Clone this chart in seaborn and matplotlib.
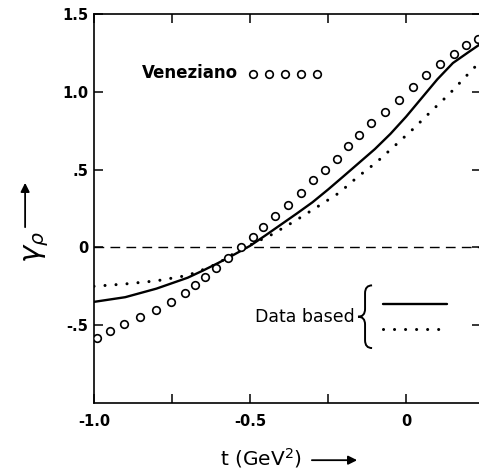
import numpy as np
import matplotlib
matplotlib.use("Agg")
import matplotlib.pyplot as plt
from matplotlib.path import Path
from matplotlib.patches import PathPatch
import seaborn as sns

# Veneziano model (open circles)
ven_t = [-0.99, -0.949, -0.904, -0.853, -0.80, -0.753, -0.708, -0.676, -0.644, -0.609,
         -0.57, -0.53, -0.49, -0.458, -0.42, -0.38, -0.337, -0.298, -0.26, -0.22,
         -0.186, -0.15, -0.112, -0.067, -0.022, 0.022, 0.064, 0.109, 0.154, 0.192, 0.23]
ven_g = [-0.58, -0.54, -0.49, -0.45, -0.40, -0.35, -0.29, -0.24, -0.19, -0.13,
         -0.07, 0.005, 0.07, 0.13, 0.205, 0.27, 0.35, 0.43, 0.50, 0.57,
         0.65, 0.72, 0.80, 0.87, 0.95, 1.03, 1.11, 1.18, 1.24, 1.30, 1.34]

# data based, solid curve
sol_t = [-1.0, -0.9, -0.8, -0.7, -0.65, -0.6, -0.55, -0.5, -0.45, -0.4, -0.35, -0.3, -0.25,
         -0.2, -0.15, -0.1, -0.05, 0.0, 0.05, 0.1, 0.15, 0.2, 0.24]
sol_g = [-0.35, -0.32, -0.265, -0.195, -0.148, -0.098, -0.045, 0.01, 0.078, 0.148, 0.218,
         0.29, 0.372, 0.458, 0.545, 0.632, 0.73, 0.84, 0.96, 1.08, 1.185, 1.255, 1.31]

# data based, dotted curve
dot_t = [-1.0, -0.9, -0.8, -0.7, -0.64, -0.6, -0.57, -0.5, -0.43, -0.356, -0.285, -0.215,
         -0.154, -0.096, -0.038, 0.022, 0.083, 0.138, 0.192, 0.24]
dot_g = [-0.25, -0.235, -0.215, -0.18, -0.135, -0.10, -0.06, 0.015, 0.083, 0.17, 0.26, 0.35,
         0.455, 0.545, 0.65, 0.76, 0.88, 0.985, 1.10, 1.20]

xticks = [-1.0, -0.5, 0.0]
xtick_labels = ["-1.0", "-0.5", "0"]
xminor = [-0.75, -0.25]
yticks = [-0.5, 0.0, 0.5, 1.0, 1.5]
ytick_labels = ["-.5", "0", ".5", "1.0", "1.5"]

# key entries
ven_key_t = [-0.49, -0.439, -0.388, -0.337, -0.285]
ven_key_g = [1.115] * 5
key_t = [-0.074, 0.131]

sns.set_style("ticks")
plt.rcParams['font.family'] = ['DejaVu Sans']
for k in ['text.color', 'axes.labelcolor', 'xtick.color', 'ytick.color', 'axes.edgecolor']:
    plt.rcParams[k] = 'black'

fig = plt.figure(figsize=(4.79, 4.72), dpi=100)
ax = fig.add_axes([94 / 479, 69 / 472, 387 / 479, 389 / 472])

dotted = (0, (0.01, 3.6))
sns.scatterplot(x=ven_t, y=ven_g, ax=ax, marker='o', s=30, facecolor='white',
                edgecolor='black', linewidth=1.2, zorder=3)
sns.lineplot(x=sol_t, y=sol_g, ax=ax, color='black', linewidth=1.7, sort=False)
ax.plot(dot_t, dot_g, color='black', linewidth=2.2, linestyle=dotted, dash_capstyle='round')
ax.axhline(0, color='black', linewidth=1.0, linestyle=(0, (7, 4.5)))

# key
ax.scatter(ven_key_t, ven_key_g, marker='o', s=30, facecolor='white', edgecolor='black',
           linewidth=1.2, zorder=3)
ax.text(-0.846, 1.122, "Veneziano", fontsize=12, fontweight='bold', va='center', ha='left')
ax.plot(key_t, [-0.365] * 2, color='black', linewidth=1.7)
ax.plot(key_t, [-0.525] * 2, color='black', linewidth=2.2, linestyle=dotted, dash_capstyle='round')
ax.text(-0.163, -0.445, "Data based", fontsize=12.5, va='center', ha='right')

# curly brace
bx, by0, by1, bw, br = -0.154, -0.647, -0.244, 0.045, 0.05
bym = (by0 + by1) / 2
verts = [(bx + bw, by1), (bx + bw / 2, by1), (bx + bw / 2, by1 - br),
         (bx + bw / 2, bym + br), (bx + bw / 2, bym), (bx, bym),
         (bx + bw / 2, bym), (bx + bw / 2, bym - br),
         (bx + bw / 2, by0 + br), (bx + bw / 2, by0), (bx + bw, by0)]
codes = [Path.MOVETO, Path.CURVE3, Path.CURVE3, Path.LINETO, Path.CURVE3, Path.CURVE3,
         Path.CURVE3, Path.CURVE3, Path.LINETO, Path.CURVE3, Path.CURVE3]
ax.add_patch(PathPatch(Path(verts, codes), facecolor='none', edgecolor='black', linewidth=1.4))

ax.set_xlim(-1.0, 0.24)
ax.set_ylim(-1.0, 1.5)
ax.set_xticks(xticks)
ax.set_xticklabels(xtick_labels, fontsize=10.5, fontweight='bold')
ax.set_xticks(xminor, minor=True)
ax.set_yticks(yticks)
ax.set_yticklabels(ytick_labels, fontsize=10.5, fontweight='bold')
ax.tick_params(which='both', direction='in', top=True, right=True, length=6.5, width=1.1,
               color='black')
ax.tick_params(axis='x', which='both', pad=8)
ax.tick_params(axis='y', pad=4)
for s in ax.spines.values():
    s.set_linewidth(1.2)

# axis labels with arrows
ax.set_xlabel("t (GeV$^2$)", fontsize=14.5, va='center')
ax.xaxis.set_label_coords(0.431, -0.142)
ax.annotate("", xy=(0.68, -0.147), xytext=(0.563, -0.147), xycoords='axes fraction',
            arrowprops=dict(arrowstyle='-|>', color='black', lw=1.3, mutation_scale=13,
                            shrinkA=0, shrinkB=0), annotation_clip=False)
ax.set_ylabel("$\\gamma_\\rho$", fontsize=21)
ax.yaxis.set_label_coords(-0.11, 0.40)
ax.annotate("", xy=(-0.178, 0.566), xytext=(-0.178, 0.452), xycoords='axes fraction',
            arrowprops=dict(arrowstyle='-|>', color='black', lw=1.3, mutation_scale=13,
                            shrinkA=0, shrinkB=0), annotation_clip=False)

fig.savefig("out.png", dpi=100)
